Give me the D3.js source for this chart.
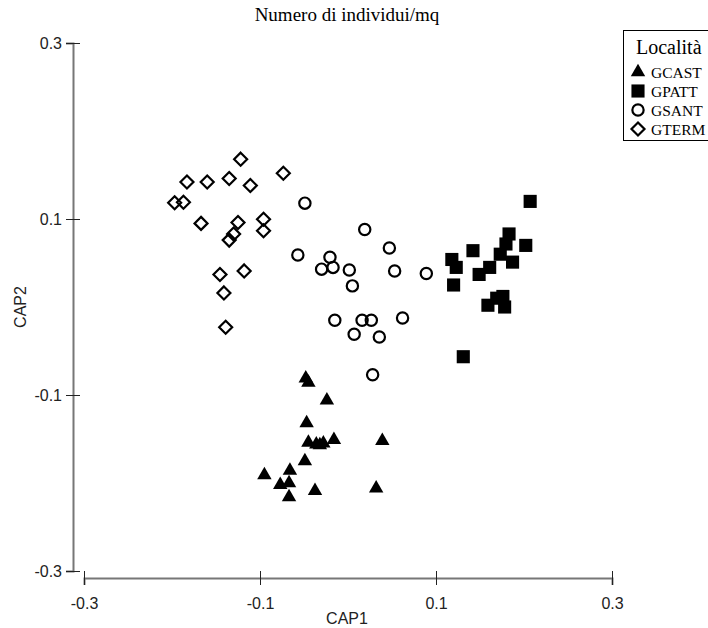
<!DOCTYPE html>
<html><head><meta charset="utf-8">
<script src="https://cdn.jsdelivr.net/npm/d3@7"></script>
<style>body{margin:0;background:#fff}svg{display:block}</style>
</head><body>
<script>
const groups = ["GCAST","GPATT","GSANT","GTERM"];
const tickValues = [-0.3,-0.1,0.1,0.3];
const tickLabels = ["-0.3","-0.1","0.1","0.3"];
const GCAST = [[-0.048,-0.081],[-0.045,-0.086],[-0.024,-0.106],[-0.047,-0.132],[-0.045,-0.154],[-0.036,-0.156],[-0.028,-0.155],[-0.016,-0.151],[-0.032,-0.157],[0.039,-0.152],[-0.049,-0.175],[-0.066,-0.186],[-0.095,-0.191],[-0.077,-0.202],[-0.067,-0.200],[-0.067,-0.216],[-0.0375,-0.209],[0.032,-0.206]];
const GPATT = [[0.207,0.120],[0.183,0.083],[0.1795,0.0716],[0.202,0.070],[0.142,0.064],[0.173,0.060],[0.118,0.054],[0.187,0.051],[0.123,0.045],[0.161,0.045],[0.149,0.037],[0.120,0.025],[0.169,0.010],[0.176,0.012],[0.159,0.002],[0.178,0.000],[0.131,-0.0565]];
const GSANT = [[-0.049,0.118],[0.019,0.088],[-0.057,0.059],[0.047,0.067],[-0.0205,0.0565],[-0.030,0.043],[-0.017,0.045],[0.0015,0.042],[0.053,0.041],[0.089,0.038],[0.005,0.024],[-0.015,-0.015],[0.016,-0.015],[0.0265,-0.015],[0.062,-0.0125],[0.007,-0.031],[0.0356,-0.034],[0.028,-0.077]];
const GTERM = [[-0.122,0.168],[-0.0735,0.152],[-0.183,0.142],[-0.160,0.142],[-0.135,0.146],[-0.111,0.138],[-0.197,0.1185],[-0.187,0.119],[-0.167,0.095],[-0.125,0.096],[-0.096,0.0997],[-0.096,0.0867],[-0.130,0.083],[-0.135,0.076],[-0.1455,0.037],[-0.118,0.041],[-0.141,0.016],[-0.139,-0.023]];
const seriesData = [GCAST, GPATT, GSANT, GTERM];

const W = 708, H = 628;
const svg = d3.select("body").append("svg").attr("width", W).attr("height", H);
const x = d3.scaleLinear().domain([-0.3,0.3]).range([84,612]);
const y = d3.scaleLinear().domain([-0.3,0.3]).range([571,43]);

const symbolPath = {
  GCAST: d3.symbol().type(d3.symbolTriangle).size(90)(),
  GPATT: d3.symbol().type(d3.symbolSquare).size(172)(),
  GSANT: d3.symbol().type(d3.symbolCircle).size(100)(),
  GTERM: "M0,-6.5L6.5,0L0,6.5L-6.5,0Z"
};
const filled = {GCAST:true, GPATT:true, GSANT:false, GTERM:false};
function styleMarker(sel, g){
  sel.attr("d", symbolPath[g])
    .attr("fill", filled[g] ? "#000" : "none")
    .attr("stroke", filled[g] ? "none" : "#000")
    .attr("stroke-width", 2.2);
}
const sans = "'Liberation Sans', Arial, sans-serif";
const serif = "'Liberation Serif', 'Times New Roman', serif";

// title
svg.append("text").attr("x", 347).attr("y", 21).attr("text-anchor","middle")
  .attr("font-family",serif).attr("font-size", 19)
  .text("Numero di individui/mq");

// x axis
const xAxis = d3.axisBottom(x).tickValues(tickValues).tickFormat((d,i)=>tickLabels[i]).tickSizeOuter(0).tickSize(7).tickPadding(13);
const gx = svg.append("g").attr("transform","translate(0,578)").call(xAxis);
gx.select(".domain").attr("stroke","#777").attr("stroke-width",2);
gx.selectAll(".tick line").attr("y1",-7).attr("y2",7).attr("stroke","#222");
gx.selectAll(".tick text").attr("font-family",sans).attr("font-size",16).attr("fill","#222");

// y axis
const yAxis = d3.axisLeft(y).tickValues(tickValues).tickFormat((d,i)=>tickLabels[i]).tickSizeOuter(0).tickSize(7).tickPadding(4);
const gy = svg.append("g").attr("transform","translate(73,0)").call(yAxis);
gy.select(".domain").attr("stroke","#777").attr("stroke-width",2);
gy.selectAll(".tick line").attr("x1",-7).attr("x2",7).attr("stroke","#222");
gy.selectAll(".tick text").attr("font-family",sans).attr("font-size",16).attr("fill","#222");

// axis titles
svg.append("text").attr("x", 347).attr("y", 624).attr("text-anchor","middle")
  .attr("font-family",sans).attr("font-size",16).attr("fill","#222").text("CAP1");
svg.append("text").attr("transform","translate(26,307) rotate(-90)").attr("text-anchor","middle")
  .attr("font-family",sans).attr("font-size",16).attr("fill","#222").text("CAP2");

// points
groups.forEach((g,i)=>{
  svg.append("g").selectAll("path").data(seriesData[i]).join("path")
    .attr("transform", d=>`translate(${x(d[0])},${y(d[1])})`)
    .call(s=>styleMarker(s,g));
});

// legend
const lg = svg.append("g");
lg.append("rect").attr("x",623.5).attr("y",30.5).attr("width",100).attr("height",110)
  .attr("fill","#fff").attr("stroke","#000").attr("stroke-width",1);
lg.append("text").attr("x",636).attr("y",54)
  .attr("font-family",serif).attr("font-size",20).text("Località");
groups.forEach((g,i)=>{
  const cy = 72 + i*19;
  lg.append("path").attr("transform",`translate(638,${cy})`).call(s=>styleMarker(s,g));
  lg.append("text").attr("x",651).attr("y",cy+5.5)
    .attr("font-family",serif).attr("font-size",15.5).text(g);
});
</script>
</body></html>
